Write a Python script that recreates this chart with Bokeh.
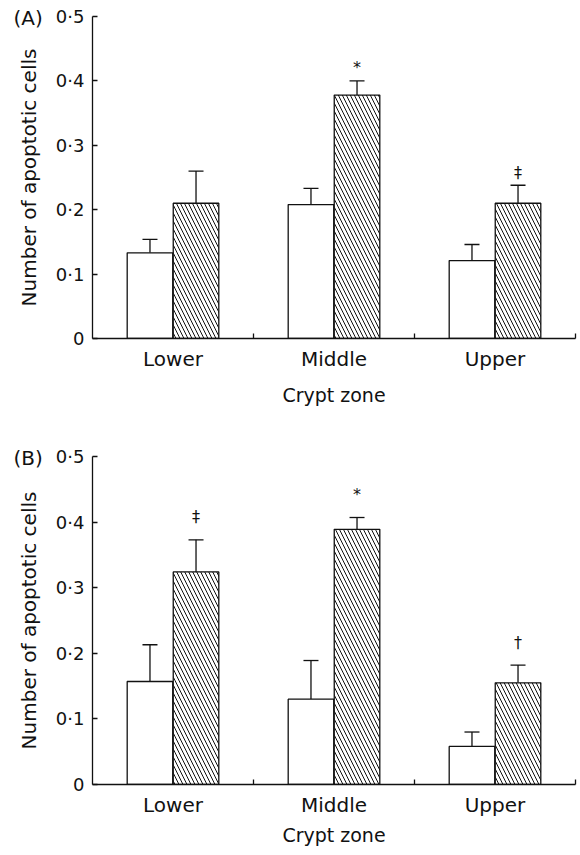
from bokeh.plotting import figure
from bokeh.models import (ColumnDataSource, Range1d, FixedTicker, CustomJSTickFormatter,
                          Whisker, TeeHead, LinearAxis)
from bokeh.layouts import column
from bokeh.core.properties import value
from bokeh.embed import file_html
from bokeh.resources import INLINE

# ---------------- data ----------------
categories = ["Lower", "Middle", "Upper"]
y_ticks = [0, 0.1, 0.2, 0.3, 0.4, 0.5]
y_tick_labels = ["0", "0·1", "0·2", "0·3", "0·4", "0·5"]

a_control = [0.133, 0.208, 0.121]
a_control_err = [0.021, 0.025, 0.025]
a_treated = [0.210, 0.378, 0.210]
a_treated_err = [0.050, 0.022, 0.028]
a_marks = ["", "*", "‡"]

b_control = [0.157, 0.130, 0.058]
b_control_err = [0.056, 0.059, 0.022]
b_treated = [0.324, 0.389, 0.155]
b_treated_err = [0.049, 0.018, 0.027]
b_marks = ["‡", "*", "†"]

FONT = "DejaVu Sans"
INK = "#111111"
BAR_W = 0.283
DODGE = 0.143


def make_panel(tag, control, control_err, treated, treated_err, marks,
               height, top, bottom, title_standoff, mark_offset, tag_standoff):
    p = figure(width=578, height=height, output_backend="svg", toolbar_location=None,
               x_range=Range1d(0, len(categories)), y_range=Range1d(0, 0.5),
               min_border_left=92, min_border_right=3,
               min_border_top=top, min_border_bottom=bottom,
               x_axis_type=None, y_axis_type=None, title=tag)
    p.outline_line_color = None
    p.grid.visible = False
    p.background_fill_color = "white"
    p.border_fill_color = "white"

    # panel tag "(A)"/"(B)" drawn as the figure title, pulled down next to the axis top
    p.title.align = "left"
    p.title.offset = -79
    p.title.standoff = tag_standoff
    p.title.vertical_align = "bottom"
    p.title.text_font = FONT
    p.title.text_font_size = "20px"
    p.title.text_font_style = "normal"
    p.title.text_color = INK

    idx = list(range(len(categories)))
    xc = [i + 0.5 - DODGE for i in idx]
    xt = [i + 0.5 + DODGE for i in idx]

    src_c = ColumnDataSource(dict(x=xc, top=control,
                                  upper=[v + e for v, e in zip(control, control_err)]))
    src_t = ColumnDataSource(dict(x=xt, top=treated,
                                  upper=[v + e for v, e in zip(treated, treated_err)],
                                  mark=marks))

    for src in (src_c, src_t):
        p.add_layout(Whisker(source=src, base="x", lower="top", upper="upper",
                             dimension="height", line_color=INK, line_width=1.3,
                             lower_head=None,
                             upper_head=TeeHead(size=15, line_color=INK, line_width=1.3)))

    p.vbar(x="x", top="top", bottom=0, width=BAR_W, source=src_c,
           fill_color="white", line_color=INK, line_width=1.3)
    p.vbar(x="x", top="top", bottom=0, width=BAR_W, source=src_t,
           fill_color="white", line_color=INK, line_width=1.3,
           hatch_pattern="\\", hatch_color=INK, hatch_scale=8, hatch_weight=1)

    p.text(x="x", y="upper", text="mark", source=src_t, text_align="center",
           text_baseline="middle", text_font=value(FONT), text_font_size="16px",
           text_color=INK, y_offset=mark_offset)

    # x axis: labels at category centres, ticks at category boundaries
    xaxis = LinearAxis(
        ticker=FixedTicker(ticks=[i + 0.5 for i in idx], minor_ticks=[i + 1 for i in idx]),
        formatter=CustomJSTickFormatter(args=dict(catnames=categories),
                                        code="return catnames[Math.floor(tick)];"),
        axis_label="Crypt zone")
    xaxis.major_tick_in = 0
    xaxis.major_tick_out = 0
    xaxis.minor_tick_in = 5
    xaxis.minor_tick_out = 0
    xaxis.minor_tick_line_color = INK
    xaxis.minor_tick_line_width = 1.3
    xaxis.axis_line_color = INK
    xaxis.axis_line_width = 1.3
    xaxis.major_label_standoff = 8
    xaxis.major_label_text_font = FONT
    xaxis.major_label_text_font_size = "20px"
    xaxis.major_label_text_color = INK
    xaxis.axis_label_standoff = title_standoff
    xaxis.axis_label_text_font = FONT
    xaxis.axis_label_text_font_size = "19px"
    xaxis.axis_label_text_font_style = "normal"
    xaxis.axis_label_text_color = INK
    p.add_layout(xaxis, "below")

    yaxis = LinearAxis(
        ticker=FixedTicker(ticks=y_ticks, minor_ticks=[]),
        formatter=CustomJSTickFormatter(
            args=dict(tvals=y_ticks, tlabels=y_tick_labels),
            code="const i = tvals.findIndex(t => Math.abs(t - tick) < 1e-6); return i >= 0 ? tlabels[i] : '';"),
        axis_label="Number of apoptotic cells")
    yaxis.major_tick_in = 5
    yaxis.major_tick_out = 0
    yaxis.minor_tick_in = 0
    yaxis.minor_tick_out = 0
    yaxis.major_tick_line_color = INK
    yaxis.major_tick_line_width = 1.3
    yaxis.axis_line_color = INK
    yaxis.axis_line_width = 1.3
    yaxis.major_label_standoff = 8
    yaxis.major_label_text_font = FONT
    yaxis.major_label_text_font_size = "18px"
    yaxis.major_label_text_color = INK
    yaxis.axis_label_standoff = 12
    yaxis.axis_label_text_font = FONT
    yaxis.axis_label_text_font_size = "20px"
    yaxis.axis_label_text_font_style = "normal"
    yaxis.axis_label_text_color = INK
    p.add_layout(yaxis, "left")
    return p


pa = make_panel("(A)", a_control, a_control_err, a_treated, a_treated_err, a_marks,
                height=408, top=16, bottom=70, title_standoff=10, mark_offset=-13,
                tag_standoff=-26)
pb = make_panel("(B)", b_control, b_control_err, b_treated, b_treated_err, b_marks,
                height=440, top=48, bottom=64, title_standoff=4, mark_offset=-23,
                tag_standoff=-26)

layout = column(pa, pb, spacing=0)
open("out.html", "w").write(file_html(layout, INLINE))
